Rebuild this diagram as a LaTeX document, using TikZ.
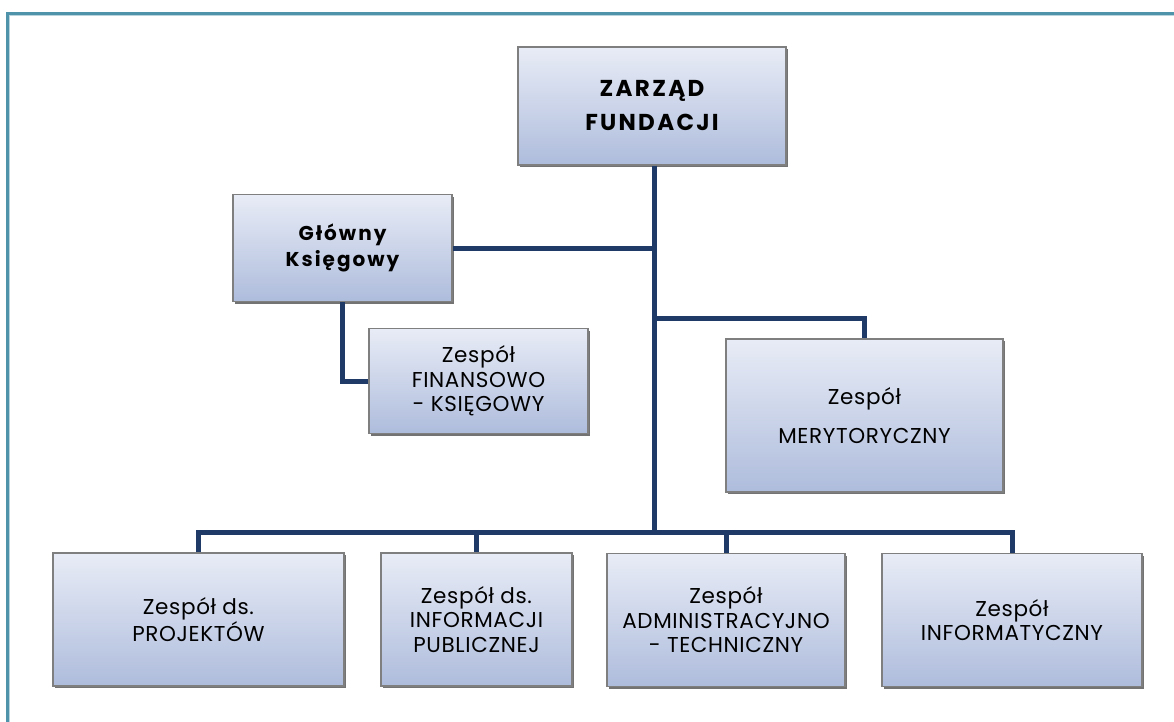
\documentclass[tikz,border=0pt]{standalone}
\usepackage{fontspec}
\setmainfont{Poppins}[LetterSpace=3, BoldFeatures={LetterSpace=10}]
\usetikzlibrary{shadows}
\definecolor{linec}{HTML}{1F3A66}
\definecolor{frame}{HTML}{4F93AA}
\definecolor{boxtop}{HTML}{E8ECF6}
\definecolor{boxbot}{HTML}{AEBCDC}
\definecolor{boxedge}{HTML}{7F7F7F}
\tikzset{
  orgbox/.style={draw=boxedge, line width=1.5pt, top color=boxtop, bottom color=boxbot,
    align=center, inner sep=0pt, anchor=center,
    drop shadow={shadow xshift=1.5pt, shadow yshift=-2pt, fill=black, opacity=0.55},
    font=\fontsize{21.5}{24.5}\selectfont},
  boldbox/.style={orgbox, font=\fontsize{23}{34}\selectfont\bfseries},
  conn/.style={draw=linec, line width=5pt}
}
\begin{document}
\begin{tikzpicture}[x=1pt,y=-1pt]
\useasboundingbox (0,0) rectangle (1174,722);
% frame (left and top edges)
\draw[frame, line width=3pt] (7.5,722) -- (7.5,13.5) -- (1174,13.5);
\draw[frame!40, line width=0.8pt] (9,722) -- (9,15) -- (1174,15);
% nodes
\node[boldbox, minimum width=268, minimum height=118] (zarz) at (652,106) {ZARZĄD\\FUNDACJI};
\node[boldbox, minimum width=219, minimum height=107, font=\fontsize{20}{26}\selectfont\bfseries] (glow) at (342.5,248) {Główny\\Księgowy};
\node[orgbox, minimum width=219, minimum height=105] (fin) at (478.5,381) {Zespół\\FINANSOWO\\- KSIĘGOWY};
\node[orgbox, minimum width=277, minimum height=153] (mer) at (864.5,415.5) {Zespół\\[14pt]MERYTORYCZNY};
\node[orgbox, minimum width=291, minimum height=133] (proj) at (198.5,619.5) {Zespół ds.\\PROJEKTÓW};
\node[orgbox, minimum width=191, minimum height=133] (info) at (476.5,619.5) {Zespół ds.\\INFORMACJI\\PUBLICZNEJ};
\node[orgbox, minimum width=238, minimum height=133] (adm) at (726,620) {Zespół\\ADMINISTRACYJNO\\- TECHNICZNY};
\node[orgbox, minimum width=260, minimum height=133] (it) at (1012,620) {Zespół\\INFORMATYCZNY};
% junction coordinates
\coordinate (bus) at (654,532);
\coordinate (jm) at (654,318);
% connectors
\draw[conn] (zarz.south -| bus) -- (bus);
\draw[conn] (glow.east) -- (glow.east -| bus);
\draw[conn] (jm) -| (mer.north);
\draw[conn] (glow.south) |- (fin.west);
\draw[conn] (proj.north) |- (bus) -| (it.north);
\draw[conn] (bus -| info.north) -- (info.north);
\draw[conn] (bus -| adm.north) -- (adm.north);
\end{tikzpicture}
\end{document}
